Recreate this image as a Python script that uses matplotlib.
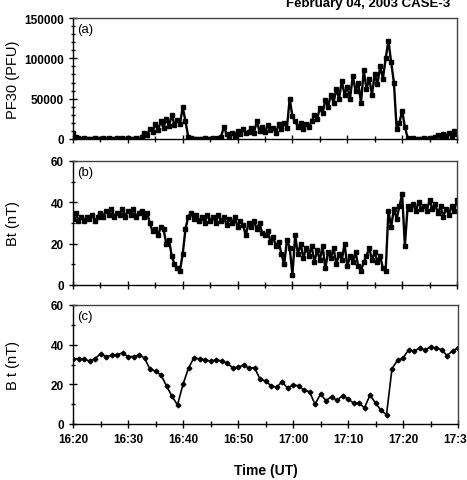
import numpy as np
import matplotlib
matplotlib.use("Agg")
import matplotlib.pyplot as plt
from matplotlib.ticker import MultipleLocator

plt.rcParams['font.family'] = ['Liberation Sans', 'DejaVu Sans']

# Time axis: minutes after 16:20 UT
tick_labels = ["16:20", "16:30", "16:40", "16:50", "17:00", "17:10", "17:20", "17:30"]
t_fine = np.arange(0, 70.5, 0.5)      # 30 s samples
t_min = np.arange(0, 71, 1)           # 1 min samples

# (a) proton flux PF30 (PFU), 30 s samples
pf30 = [8000, 2000, 1000, 500, 800, 300, 600, 400, 900, 300,
        500, 700, 400, 1500, 600, 300, 800, 500, 1200, 400,
        700, 300, 600, 1000, 400, 3000, 8000, 5000, 12000, 9000,
        18000, 11000, 22000, 14000, 25000, 16000, 30000, 17000, 24000, 18000,
        40000, 22000, 3000, 800, 400, 600, 300, 500, 800, 400,
        300, 900, 500, 1200, 3000, 15000, 6000, 2000, 8000, 4000,
        10000, 6000, 12000, 7000, 9000, 14000, 8000, 22000, 10000, 15000,
        9000, 17000, 11000, 14000, 8000, 18000, 12000, 20000, 14000, 50000,
        28000, 22000, 15000, 20000, 13000, 18000, 15000, 22000, 30000, 25000,
        38000, 32000, 48000, 40000, 55000, 45000, 62000, 50000, 72000, 55000,
        65000, 50000, 78000, 60000, 70000, 45000, 85000, 62000, 75000, 55000,
        80000, 68000, 90000, 75000, 100000, 122000, 95000, 70000, 12000, 20000,
        35000, 15000, 1500, 500, 800, 300, 600, 400, 1000, 500,
        700, 1500, 3000, 5000, 2500, 6000, 4000, 8000, 3500, 10000,
        6000]

# (b) Bt (nT), 30 s samples
bt_fine = [32, 35, 31, 33, 31, 33, 32, 34, 31, 33,
           35, 33, 36, 34, 37, 33, 35, 34, 37, 33,
           36, 34, 37, 33, 35, 36, 33, 35, 30, 26,
           27, 24, 28, 27, 20, 22, 14, 10, 8, 7,
           15, 27, 33, 35, 32, 34, 31, 33, 30, 34,
           31, 33, 30, 34, 31, 33, 29, 32, 30, 33,
           28, 31, 29, 24, 30, 28, 31, 27, 30, 25,
           24, 26, 21, 23, 19, 21, 15, 10, 22, 18,
           5, 24, 15, 20, 13, 18, 14, 19, 11, 17,
           12, 19, 8, 16, 13, 18, 10, 15, 12, 20,
           9, 14, 11, 16, 9, 7, 11, 14, 18, 12,
           16, 11, 14, 8, 7, 36, 28, 37, 32, 38,
           44, 19, 38, 37, 39, 36, 40, 37, 38, 36,
           41, 37, 39, 35, 38, 33, 37, 34, 38, 36,
           41]

# (c) Bt (nT), 1 min averages
bt_min = [32.8, 33.0, 32.6, 31.8, 33.0, 35.3, 34.0, 34.6, 35.0, 35.8,
          34.0, 34.0, 34.8, 33.3, 27.6, 26.7, 24.7, 19.2, 14.0, 9.6,
          20.0, 28.2, 33.4, 32.8, 32.4, 31.6, 32.4, 31.8, 30.8, 28.4,
          28.6, 29.7, 28.2, 28.4, 22.7, 21.7, 19.3, 18.5, 21.3, 18.2,
          19.7, 19.3, 17.1, 16.3, 9.9, 15.1, 11.8, 13.8, 11.9, 14.3,
          12.6, 10.6, 10.4, 8.2, 14.6, 10.6, 6.9, 4.7, 27.9, 32.1,
          33.3, 37.3, 36.8, 38.2, 37.3, 39.0, 38.3, 37.5, 34.5, 36.8,
          38.5]

W, H = 467, 481
fig = plt.figure(figsize=(W / 100, H / 100), dpi=100)

def px_axes(left, top, right, bottom):
    return fig.add_axes([left / W, 1 - bottom / H, (right - left) / W, (bottom - top) / H])

ax_a = px_axes(73, 19, 457, 140)
ax_b = px_axes(73, 162, 457, 286)
ax_c = px_axes(73, 306, 458, 425)

ax_a.plot(t_fine, pf30, color='black', lw=1.7, marker='s', ms=2.6)
ax_b.plot(t_fine, bt_fine, color='black', lw=1.7, marker='s', ms=2.6)
ax_c.plot(t_min, bt_min, color='black', lw=1.2, marker='D', ms=2.4)

ax_a.set_ylim(0, 150000)
ax_a.yaxis.set_major_locator(MultipleLocator(50000))
ax_a.yaxis.set_minor_locator(MultipleLocator(10000))
for ax in (ax_b, ax_c):
    ax.set_ylim(0, 60)
    ax.yaxis.set_major_locator(MultipleLocator(20))
    ax.yaxis.set_minor_locator(MultipleLocator(10))

for ax in (ax_a, ax_b, ax_c):
    ax.set_xlim(0, 70)
    ax.xaxis.set_major_locator(MultipleLocator(10))
    ax.xaxis.set_minor_locator(MultipleLocator(5))
    ax.tick_params(which='major', direction='inout', length=6, width=1.0, labelsize=8.5)
    ax.tick_params(which='minor', direction='inout', length=5, width=1.0)
    ax.tick_params(axis='y', which='minor', length=3)
    ax.tick_params(top=False, right=False, which='both')
    for lab in ax.get_yticklabels():
        lab.set_fontweight('bold')
    for s in ('top', 'right'):
        ax.spines[s].set_color('#444444')
    for s in ax.spines.values():
        s.set_linewidth(1.0)

ax_a.set_xticklabels([])
ax_b.set_xticklabels([])
ax_c.set_xticks(np.arange(0, 71, 10))
ax_c.set_xticklabels(tick_labels, fontweight='bold', fontsize=8.5)

ax_a.set_ylabel("PF30 (PFU)", fontsize=10.5)
ax_b.set_ylabel("Bt (nT)", fontsize=10.5)
ax_c.set_ylabel("B t (nT)", fontsize=10.5)
for ax in (ax_a, ax_b, ax_c):
    ax.yaxis.set_label_coords((20 - 73) / 384, 0.5)

for ax, tag in ((ax_a, "(a)"), (ax_b, "(b)"), (ax_c, "(c)")):
    ax.text(0.012, 0.96, tag, transform=ax.transAxes, va='top', ha='left', fontsize=9.5)

ax_c.set_xlabel("Time (UT)", fontsize=10, fontweight='bold', labelpad=13)

fig.text(450 / W, 1 - 6.5 / H, "February 04, 2003 CASE-3", ha='right', va='baseline',
         fontsize=9.5, fontweight='bold')

fig.savefig("out.png", dpi=100)
